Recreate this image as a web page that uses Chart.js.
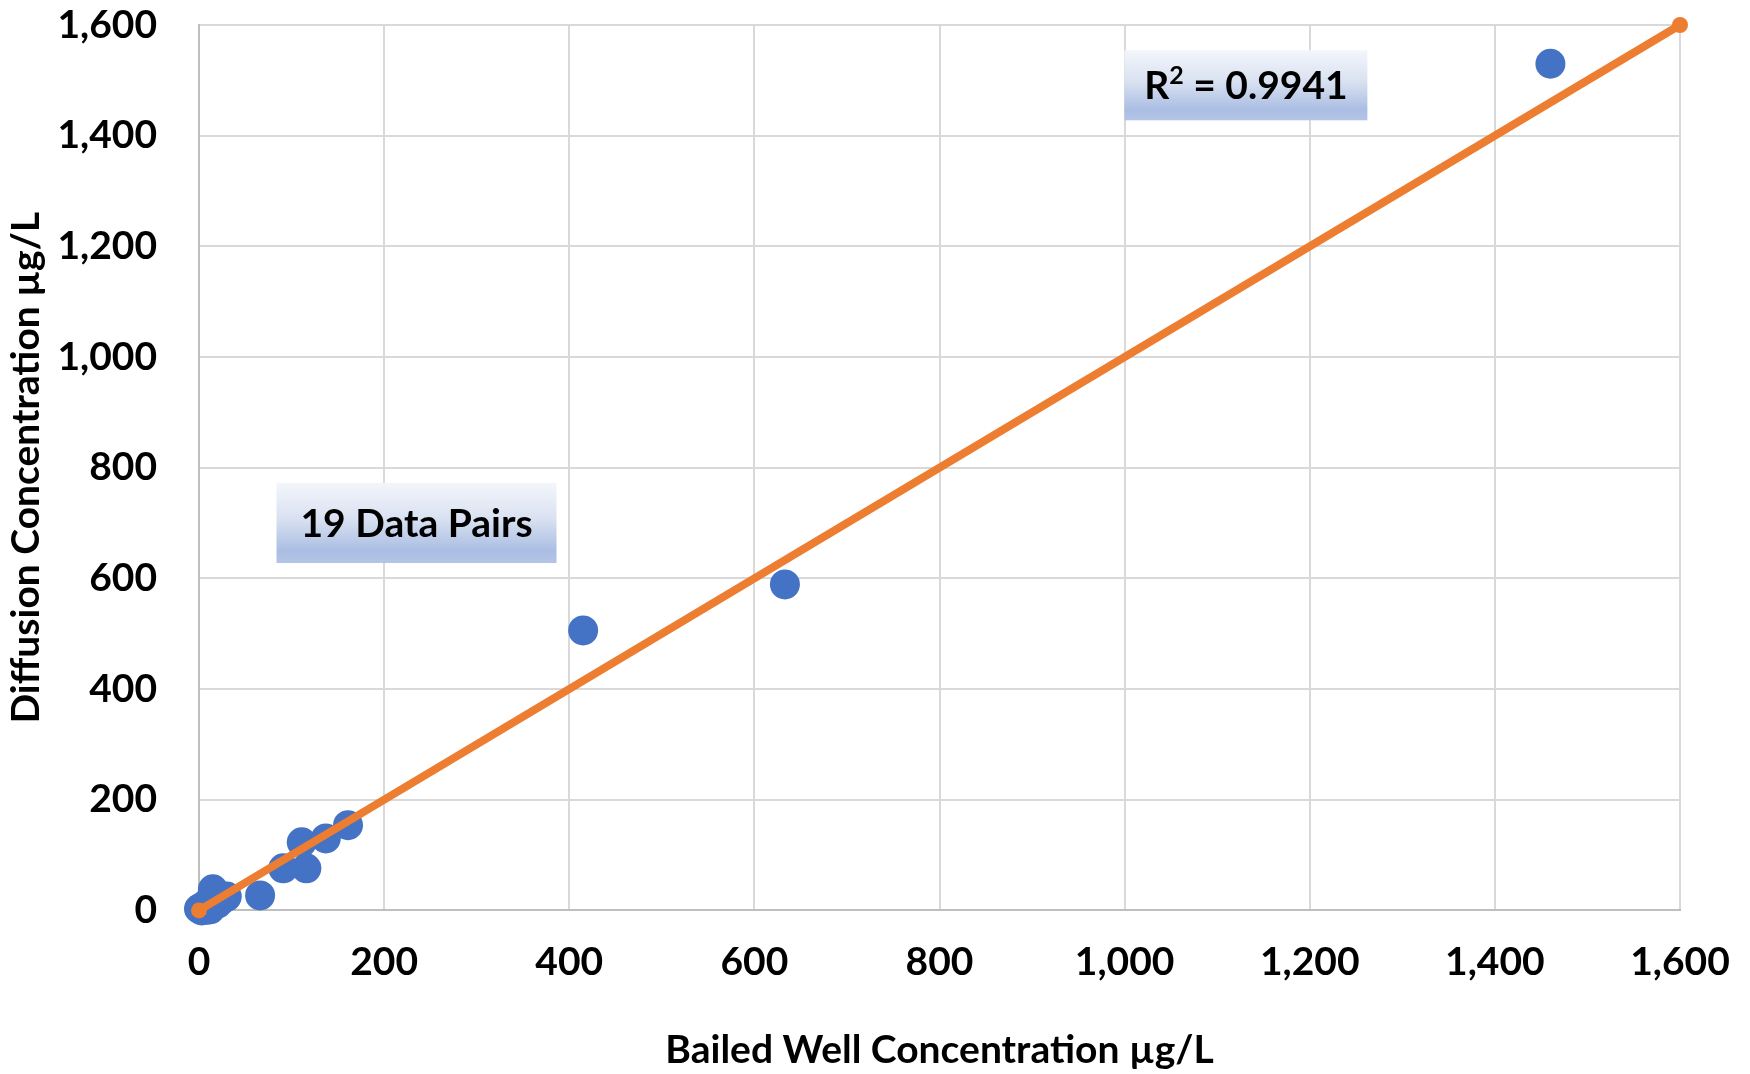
<!DOCTYPE html>
<html>
<head>
    <meta charset="utf-8">
    <title>Diffusion vs Bailed Well Concentration</title>
    <script src="https://cdn.jsdelivr.net/npm/chart.js@4.4.1/dist/chart.umd.min.js"></script>
    <style>
        body { margin: 0; background: #fff; }
        .chart-container { position: relative; width: 1750px; height: 1074px; }
    </style>
</head>
<body>
    <div class="chart-container">
        <canvas id="scatter-chart"></canvas>
    </div>

    <script>
        // Data pairs (µg/L)
        const bailed    = [415, 633, 1460, 161, 137, 111, 116, 91, 66, 30, 15, 12, 0, 5, 20, 8, 3, 25, 10];
        const diffusion = [506, 589, 1530, 154, 130, 123, 76, 76, 27, 25, 38, 2, 3, 8, 12, 1, 0, 20, 15];

        // 1:1 line
        const lineX = [0, 1600];
        const lineY = [0, 1600];

        const axisTicks = [0, 200, 400, 600, 800, 1000, 1200, 1400, 1600];

        const notes = [
            {text: '19 Data Pairs', x: 235, y: 700, w: 280, h: 80},
            {text: 'R', sup: '2', rest: ' = 0.9941', x: 1131, y: 1491, w: 243, h: 70}
        ];

        const points = bailed.map((v, i) => ({x: v, y: diffusion[i]}));
        const linePts = lineX.map((v, i) => ({x: v, y: lineY[i]}));

        const FONT = 'Lato, "Open Sans", sans-serif';

        // boxes with gradient fill, like the Excel text boxes
        const notesPlugin = {
            id: 'notes',
            afterDatasetsDraw(chart) {
                const ctx = chart.ctx;
                const xs = chart.scales.x, ys = chart.scales.y;
                notes.forEach(n => {
                    const cx = xs.getPixelForValue(n.x);
                    const cy = ys.getPixelForValue(n.y);
                    const left = cx - n.w / 2, top = cy - n.h / 2;
                    const g = ctx.createLinearGradient(0, top, 0, top + n.h);
                    g.addColorStop(0, '#f3f6fb');
                    g.addColorStop(0.45, '#d9e1f1');
                    g.addColorStop(0.85, '#aabde3');
                    g.addColorStop(1, '#b4c5e7');
                    ctx.save();
                    ctx.fillStyle = g;
                    ctx.fillRect(left, top, n.w, n.h);
                    ctx.fillStyle = '#000';
                    ctx.textBaseline = 'middle';
                    const big = 'bold 39px ' + FONT, small = 'bold 25px ' + FONT;
                    if (n.sup) {
                        // R + raised 2 + rest
                        ctx.font = big;
                        const w1 = ctx.measureText(n.text).width;
                        const w3 = ctx.measureText(n.rest).width;
                        ctx.font = small;
                        const w2 = ctx.measureText(n.sup).width;
                        let x = cx - (w1 + w2 + w3) / 2;
                        ctx.textAlign = 'left';
                        ctx.font = big;
                        ctx.fillText(n.text, x, cy + 1);
                        x += w1;
                        ctx.font = small;
                        ctx.fillText(n.sup, x, cy - 9);
                        x += w2;
                        ctx.font = big;
                        ctx.fillText(n.rest, x, cy + 1);
                    } else {
                        ctx.font = big;
                        ctx.textAlign = 'center';
                        ctx.fillText(n.text, cx, cy + 1);
                    }
                    ctx.restore();
                });
            }
        };

        const tickFont = {family: FONT, size: 39, weight: 'bold'};
        const titleFont = {family: FONT, size: 39, weight: 'bold'};

        new Chart(document.getElementById('scatter-chart'), {
            type: 'scatter',
            data: {
                datasets: [
                    {
                        type: 'line',
                        data: linePts,
                        borderColor: '#ED7D31',
                        backgroundColor: '#ED7D31',
                        borderWidth: 8,
                        pointRadius: 8,
                        pointBorderWidth: 0,
                        clip: false,
                        order: 0
                    },
                    {
                        data: points,
                        backgroundColor: '#4472C4',
                        borderColor: '#4472C4',
                        pointRadius: 15,
                        pointBorderWidth: 0,
                        clip: false,
                        order: 1
                    }
                ]
            },
            options: {
                responsive: true,
                maintainAspectRatio: false,
                animation: false,
                layout: {autoPadding: false, padding: {top: 25, right: 70, left: 3, bottom: 0}},
                plugins: {
                    legend: {display: false},
                    tooltip: {enabled: false}
                },
                scales: {
                    x: {
                        type: 'linear',
                        min: 0, max: 1600,
                        afterBuildTicks: axis => { axis.ticks = axisTicks.map(v => ({value: v})); },
                        afterFit: axis => { axis.paddingLeft = 0; axis.paddingRight = 0; },
                        grid: {color: '#d9d9d9', lineWidth: 2, drawTicks: false},
                        border: {color: '#bfbfbf', width: 2},
                        ticks: {font: tickFont, color: '#000', padding: 29, maxRotation: 0},
                        title: {display: true, text: 'Bailed Well Concentration \u00B5g/L', font: titleFont, color: '#000', padding: {top: 12, bottom: 0}}
                    },
                    y: {
                        min: 0, max: 1600,
                        afterBuildTicks: axis => { axis.ticks = axisTicks.map(v => ({value: v})); },
                        afterFit: axis => { axis.paddingTop = 0; axis.paddingBottom = 0; axis.width = 196; },
                        grid: {color: '#d9d9d9', lineWidth: 2, drawTicks: false},
                        border: {color: '#bfbfbf', width: 2},
                        ticks: {font: tickFont, color: '#000', padding: 42},
                        title: {display: true, text: 'Diffusion Concentration \u00B5g/L', font: titleFont, color: '#000', padding: {top: 0, bottom: 8}}
                    }
                }
            },
            plugins: [notesPlugin]
        });
    </script>
</body>
</html>
